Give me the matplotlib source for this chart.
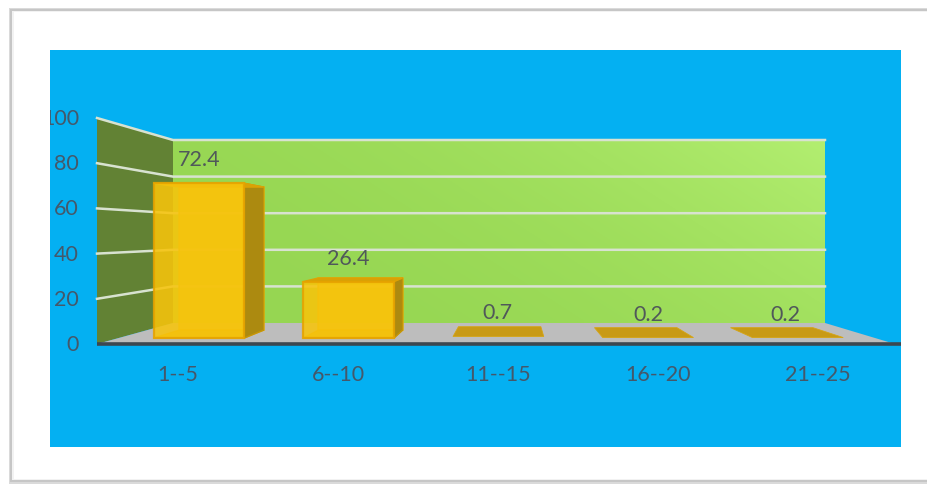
import matplotlib
matplotlib.use("Agg")
import matplotlib.pyplot as plt
from matplotlib.patches import Polygon, Rectangle
import numpy as np

plt.rcParams["font.family"] = ["Lato", "DejaVu Sans"]

# Datos
categories = ["1--5", "6--10", "11--15", "16--20", "21--25"]
values = [72.4, 26.4, 0.7, 0.2, 0.2]
y_ticks = [0, 20, 40, 60, 80, 100]
label_dx = [0, 0, -1, 0, -12]

text_col = "#45586A"
grid_col = "#D8E2D0"
fs = 15.5

W, H = 928, 485
fig = plt.figure(figsize=(W / 100, H / 100), dpi=100)
ax = fig.add_axes([0, 0, 1, 1])     # ejes en pixeles


# perspectiva: u = ancho (0-1), d = profundidad (0 delante, 1 fondo), v = valor
def proj(u, d, v):
    left = 97 + 76 * d
    right = 895 - 70 * d
    x = left + (right - left) * u
    y = 345 - 21 * d - (2.26 - 0.43 * d) * v
    return (x, y)


def face(pts, **kw):
    p = Polygon(pts, closed=True, joinstyle="miter", **kw)
    ax.add_patch(p)
    return p


# tarjeta y sombra
ax.add_patch(Rectangle((9, 9), 930, 476, fc="#DADADA", ec="none"))
ax.add_patch(Rectangle((10, 10), 930, 473, fc="#C6C6C6", ec="none"))
ax.add_patch(Rectangle((12, 12), 930, 469, fc="#F2F2F2", ec="none"))
ax.add_patch(Rectangle((14, 13), 930, 467, fc="white", ec="none"))
blue = Rectangle((50, 51), 851, 397, fc="#04B0F2", ec="none")
ax.add_patch(blue)

# pared del fondo con degradado
back = face([proj(0, 1, 0), proj(1, 1, 0), proj(1, 1, 100), proj(0, 1, 100)], fc="none", ec="none")
gx, gy = np.meshgrid(np.linspace(0, 1, 80), np.linspace(0, 1, 40))
grad = np.clip(gx * 0.7 + (1 - gy) * 0.3, 0, 1) ** 2.2
c0 = np.array([0x96, 0xD6, 0x52]) / 255
c1 = np.array([0xB2, 0xEE, 0x70]) / 255
rgb = c0 + (c1 - c0) * grad[..., None]
im = ax.imshow(rgb, extent=(173, 825, 324, 141), aspect="auto", interpolation="bilinear", zorder=1)
im.set_clip_path(back)

# pared izquierda y suelo
face([proj(0, 0, 0), proj(0, 1, 0), proj(0, 1, 100), proj(0, 0, 100)], fc="#628234", ec="none", zorder=1)
face([proj(0, 0, 0), proj(1, 0, 0), proj(1, 1, 0), proj(0, 1, 0)], fc="#BDBDBD", ec="none", zorder=1)

# rejilla
for t in y_ticks[1:]:
    a, b, c = proj(0, 0, t), proj(0, 1, t), proj(1, 1, t)
    ax.plot([a[0], b[0], c[0]], [a[1], b[1], c[1]], color=grid_col, lw=1.8, zorder=2,
            solid_joinstyle="miter")

# barras
bar_w = 0.12
for i, v in enumerate(values):
    uc = 0.106 + 0.198 * i
    u0, u1 = uc - bar_w / 2, uc + bar_w / 2
    d0 = 0.286
    zo = 3
    if v < 1:
        # casi planas, solo se ve la tapa
        d1 = 0.76
        face([proj(u0, d0, v), proj(u1, d0, v), proj(u1, d1, v), proj(u0, d1, v)],
             fc="#C89A16", ec="#D6A514", lw=0.6, zorder=zo)
    else:
        d1 = 0.66
        # caras interiores (se ven por la transparencia)
        face([proj(u0, d1, 0), proj(u1, d1, 0), proj(u1, d1, v), proj(u0, d1, v)],
             fc="#F2BE10", ec="#F0B400", lw=1.2, alpha=0.75, zorder=zo)
        face([proj(u0, d0, 0), proj(u1, d0, 0), proj(u1, d1, 0), proj(u0, d1, 0)],
             fc="#E2B010", ec="#E8A800", lw=1, alpha=0.9, zorder=zo)
        face([proj(u1, d0, 0), proj(u1, d1, 0), proj(u1, d1, v), proj(u1, d0, v)],
             fc="#AC8A10", ec="#C49508", lw=1, zorder=zo + 1)
        face([proj(u0, d0, v), proj(u1, d0, v), proj(u1, d1, v), proj(u0, d1, v)],
             fc="#D9A106", ec="#DDA204", lw=1, zorder=zo + 1)
        face([proj(u0, d0, 0), proj(u1, d0, 0), proj(u1, d0, v), proj(u0, d0, v)],
             fc="#F7C40C", ec="#E6A300", lw=1.6, alpha=0.88, zorder=zo + 2)
    top = proj(uc, d0, v)
    ax.text(top[0] + label_dx[i], top[1] - 24, str(v), color="#50585A", fontsize=fs,
            ha="center", va="center", zorder=6)

# eje
ax.plot([97, 901], [345, 345], color="#3C4750", lw=2.6, zorder=5, solid_capstyle="butt")

# etiquetas
for t in y_ticks:
    txt = ax.text(79, proj(0, 0, t)[1], str(t), color=text_col, fontsize=fs,
                  ha="right", va="center", zorder=6)
    txt.set_clip_on(True)
    txt.set_clip_path(blue)
for i, c in enumerate(categories):
    ax.text(98 + 160 * (i + 0.5), 375, c, color=text_col,
            fontsize=fs, ha="center", va="center", zorder=6)

ax.set_xlim(0, W)
ax.set_ylim(H, 0)
ax.axis("off")

plt.savefig("out.png", dpi=100, facecolor="white")
